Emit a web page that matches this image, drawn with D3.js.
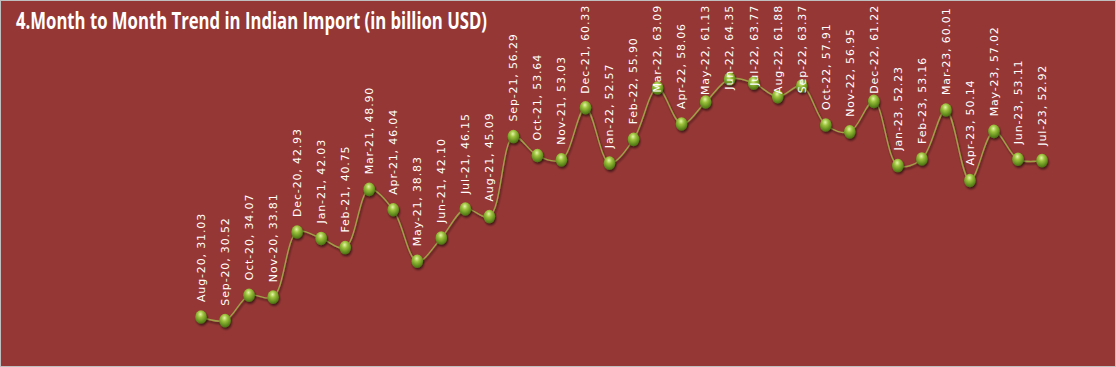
<!DOCTYPE html>
<html><head><meta charset="utf-8">
<script src="https://cdn.jsdelivr.net/npm/d3@7"></script>
<style>html,body{margin:0;padding:0;background:#fff;}svg{display:block;}</style>
</head><body>
<script>
const months = ["Aug-20","Sep-20","Oct-20","Nov-20","Dec-20","Jan-21","Feb-21","Mar-21","Apr-21","May-21","Jun-21","Jul-21","Aug-21","Sep-21","Oct-21","Nov-21","Dec-21","Jan-22","Feb-22","Mar-22","Apr-22","May-22","Jun-22","Jul-22","Aug-22","Sep-22","Oct-22","Nov-22","Dec-22","Jan-23","Feb-23","Mar-23","Apr-23","May-23","Jun-23","Jul-23"];
const imports = [31.03,30.52,34.07,33.81,42.93,42.03,40.75,48.90,46.04,38.83,42.10,46.15,45.09,56.29,53.64,53.03,60.33,52.57,55.90,63.09,58.06,61.13,64.35,63.77,61.88,63.37,57.91,56.95,61.22,52.23,53.16,60.01,50.14,57.02,53.11,52.92];
const title = "4.Month to Month Trend in Indian Import (in billion USD)";

const W = 1116, H = 367;
const svg = d3.select("body").append("svg").attr("width", W).attr("height", H);
const defs = svg.append("defs");
const g1 = defs.append("radialGradient").attr("id","ball").attr("cx","45%").attr("cy","30%").attr("r","70%");
g1.append("stop").attr("offset","0%").attr("stop-color","#e4f5a8");
g1.append("stop").attr("offset","35%").attr("stop-color","#9cc23c");
g1.append("stop").attr("offset","80%").attr("stop-color","#5f8a1c");
g1.append("stop").attr("offset","100%").attr("stop-color","#4a6e12");
const f = defs.append("filter").attr("id","sh").attr("x","-50%").attr("y","-50%").attr("width","200%").attr("height","200%");
f.append("feGaussianBlur").attr("in","SourceAlpha").attr("stdDeviation",1.2);
f.append("feOffset").attr("dx",0.5).attr("dy",2).attr("result","b");
f.append("feComponentTransfer").append("feFuncA").attr("type","linear").attr("slope",0.55);
const fm = f.append("feMerge"); fm.append("feMergeNode"); fm.append("feMergeNode").attr("in","SourceGraphic");

svg.append("rect").attr("x",0.5).attr("y",0.5).attr("width",W-1).attr("height",H-1)
  .attr("fill","#953735").attr("stroke","#bfbfbf").attr("stroke-width",1);

svg.append("text").attr("x",16).attr("y",29).attr("fill","#ffffff")
  .attr("font-family","'Liberation Sans Narrow','Open Sans',sans-serif").attr("font-weight","bold")
  .attr("font-size",23).attr("textLength",471).attr("lengthAdjust","spacingAndGlyphs").text(title);

const x = d3.scalePoint().domain(months).range([201, 1042]);
const y = d3.scaleLinear().domain([31.03, 64.35]).range([317, 79]);

const line = d3.line().x((d,i)=>x(months[i])).y(d=>y(d)).curve(d3.curveCatmullRom.alpha(0.5));
svg.append("path").datum(imports).attr("d", line).attr("fill","none")
  .attr("stroke","#a0a048").attr("stroke-width",1.4).attr("filter","url(#sh)");

svg.append("g").selectAll("ellipse").data(imports).join("ellipse")
  .attr("cx",(d,i)=>x(months[i])).attr("cy",d=>y(d)).attr("rx",5.8).attr("ry",6.8)
  .attr("fill","url(#ball)").attr("filter","url(#sh)");

const labels = svg.append("g").selectAll("text").data(imports).join("text")
  .attr("dy","0.35em").attr("fill","#ffffff")
  .attr("font-family","'DejaVu Sans',Verdana,sans-serif").attr("font-size",11)
  .attr("letter-spacing","0.85px")
  .text((d,i)=>`${months[i]}, ${d.toFixed(2)}`);
labels.each(function(d,i){
  const len = this.getComputedTextLength();
  let base = y(d) - 15;
  if (base - len < 5) base = 5 + len;
  d3.select(this).attr("transform",`translate(${x(months[i])},${base}) rotate(-90)`);
});
</script>
</body></html>
